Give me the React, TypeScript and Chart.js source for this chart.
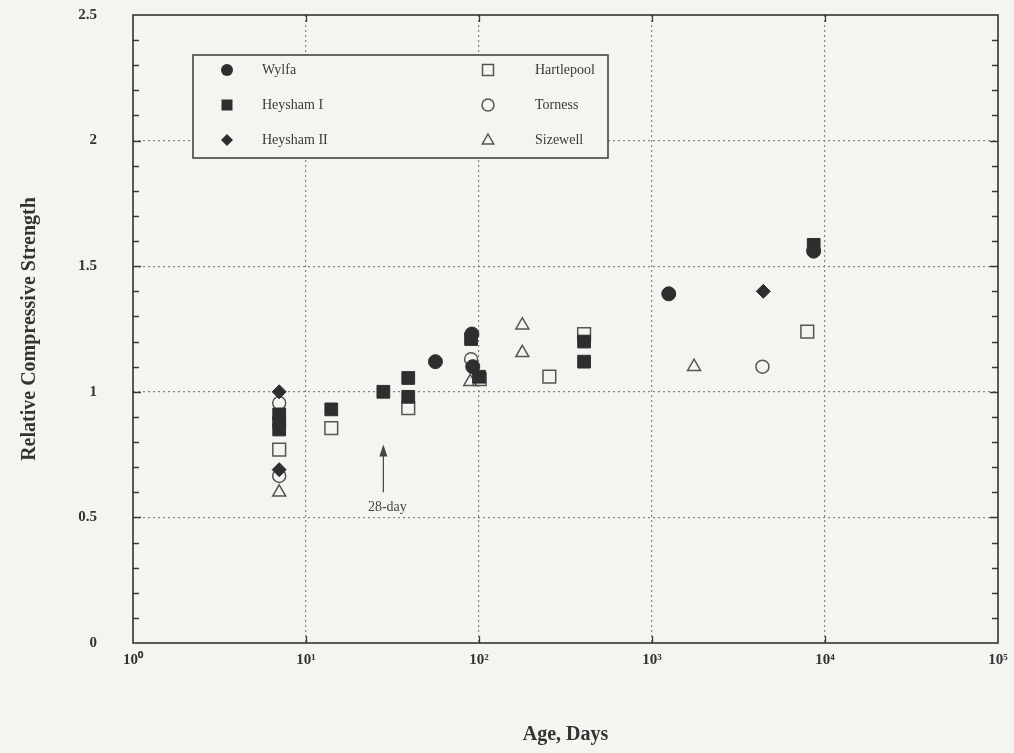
import React, { useEffect, useRef } from 'react';
import { Chart, registerables } from 'chart.js';

Chart.register(...registerables);

// ---- data (age in days, relative compressive strength) ----
const wylfaX = [56, 91, 92, 1250, 8600];
const wylfaY = [1.12, 1.23, 1.1, 1.39, 1.56];

const heysham1X = [7, 7, 7, 14, 28, 39, 39, 90, 100, 405, 405, 8600];
const heysham1Y = [0.91, 0.88, 0.85, 0.93, 1.0, 1.055, 0.98, 1.21, 1.06, 1.2, 1.12, 1.585];

const heysham2X = [7, 7, 4400];
const heysham2Y = [1.0, 0.69, 1.4];

const hartlepoolX = [7, 14, 39, 101, 255, 405, 7900];
const hartlepoolY = [0.77, 0.855, 0.935, 1.05, 1.06, 1.23, 1.24];

const tornessX = [7, 7, 90, 4350];
const tornessY = [0.955, 0.665, 1.13, 1.1];

const sizewellX = [7, 89, 178, 178, 1750];
const sizewellY = [0.6, 1.04, 1.265, 1.155, 1.1];

const seriesNames = ['Wylfa', 'Heysham I', 'Heysham II', 'Hartlepool', 'Torness', 'Sizewell'];
const xTickLabels = ['10\u2070', '10\u00b9', '10\u00b2', '10\u00b3', '10\u2074', '10\u2075'];

const annotationAge = 28;
const annotationArrowTop = 0.79;
const annotationArrowBottom = 0.6;
const annotationTextY = 0.54;
const annotationText = '28-day';

const BG = '#f4f4f1';
const DARK = '#2e2e2e';
const OPEN = '#555555';
const FONT = '"Liberation Serif", "Times New Roman", serif';

const pts = (xs: number[], ys: number[]) => xs.map((x, i) => ({ x, y: ys[i] }));

type Sym = { style: string; filled: boolean };
const symbols: Sym[] = [
  { style: 'circle', filled: true },
  { style: 'rect', filled: true },
  { style: 'diamond', filled: true },
  { style: 'rect', filled: false },
  { style: 'circle', filled: false },
  { style: 'triangle', filled: false },
];

function drawSymbol(ctx: CanvasRenderingContext2D, s: Sym, x: number, y: number, r: number) {
  ctx.save();
  ctx.beginPath();
  if (s.style === 'circle') {
    ctx.arc(x, y, r, 0, Math.PI * 2);
  } else if (s.style === 'rect') {
    ctx.rect(x - r, y - r, 2 * r, 2 * r);
  } else if (s.style === 'diamond') {
    ctx.moveTo(x, y - r);
    ctx.lineTo(x + r, y);
    ctx.lineTo(x, y + r);
    ctx.lineTo(x - r, y);
    ctx.closePath();
  } else if (s.style === 'triangle') {
    ctx.moveTo(x, y - r);
    ctx.lineTo(x + r * 0.95, y + r * 0.65);
    ctx.lineTo(x - r * 0.95, y + r * 0.65);
    ctx.closePath();
  }
  if (s.filled) {
    ctx.fillStyle = DARK;
    ctx.fill();
  } else {
    ctx.strokeStyle = OPEN;
    ctx.lineWidth = 1.5;
    ctx.stroke();
  }
  ctx.restore();
}

const decorPlugin = {
  id: 'decor',
  beforeDraw(chart: any) {
    const ctx = chart.ctx as CanvasRenderingContext2D;
    ctx.save();
    ctx.fillStyle = BG;
    ctx.fillRect(0, 0, chart.width, chart.height);
    ctx.restore();
  },
  afterDraw(chart: any) {
    const ctx = chart.ctx as CanvasRenderingContext2D;
    const { left, right, top, bottom } = chart.chartArea;
    const xs = chart.scales.x;
    const ys = chart.scales.y;
    ctx.save();
    // minor / major ticks on y (left and right)
    ctx.strokeStyle = '#3a3a3a';
    ctx.lineWidth = 1.3;
    for (let i = 1; i < 25; i++) {
      const v = i / 10;
      const py = Math.round(ys.getPixelForValue(v)) + 0.5;
      const len = i % 5 === 0 ? 8 : 6;
      ctx.beginPath();
      ctx.moveTo(left, py);
      ctx.lineTo(left + len, py);
      ctx.moveTo(right, py);
      ctx.lineTo(right - len, py);
      ctx.stroke();
    }
    // decade ticks on x (bottom and top)
    for (let d = 1; d < 5; d++) {
      const px = Math.round(xs.getPixelForValue(Math.pow(10, d))) + 0.5;
      ctx.beginPath();
      ctx.moveTo(px, bottom);
      ctx.lineTo(px, bottom - 7);
      ctx.moveTo(px, top);
      ctx.lineTo(px, top + 7);
      ctx.stroke();
    }
    // frame
    ctx.lineWidth = 1.6;
    ctx.strokeStyle = '#333';
    ctx.strokeRect(left, top, right - left, bottom - top);

    // 28-day annotation
    const ax = xs.getPixelForValue(annotationAge);
    const ayTop = ys.getPixelForValue(annotationArrowTop);
    const ayBot = ys.getPixelForValue(annotationArrowBottom);
    ctx.strokeStyle = '#444';
    ctx.fillStyle = '#444';
    ctx.lineWidth = 1.2;
    ctx.beginPath();
    ctx.moveTo(ax, ayBot);
    ctx.lineTo(ax, ayTop + 4);
    ctx.stroke();
    ctx.beginPath();
    ctx.moveTo(ax, ayTop);
    ctx.lineTo(ax - 4, ayTop + 12);
    ctx.lineTo(ax + 4, ayTop + 12);
    ctx.closePath();
    ctx.fill();
    ctx.font = `14px ${FONT}`;
    ctx.textAlign = 'center';
    ctx.textBaseline = 'middle';
    ctx.fillText(annotationText, ax + 4, ys.getPixelForValue(annotationTextY));

    // legend box
    const lx = 193, ly = 55, lw = 415, lh = 103;
    ctx.fillStyle = BG;
    ctx.fillRect(lx, ly, lw, lh);
    ctx.lineWidth = 1.6;
    ctx.strokeStyle = '#444';
    ctx.strokeRect(lx, ly, lw, lh);
    const rows = [70, 105, 140];
    const cols = [
      { sx: 227, tx: 262 },
      { sx: 488, tx: 535 },
    ];
    ctx.font = `14px ${FONT}`;
    ctx.textAlign = 'left';
    ctx.textBaseline = 'middle';
    seriesNames.forEach((name, i) => {
      const c = cols[Math.floor(i / 3)];
      const ry = rows[i % 3];
      const s = symbols[i];
      const r = s.style === 'rect' ? 5.5 : 6;
      drawSymbol(ctx, s, c.sx, ry, r);
      ctx.fillStyle = '#3a3a3a';
      ctx.fillText(name, c.tx, ry);
    });
    ctx.restore();
  },
};

const zeroPad = (s: any) => {
  s.paddingTop = 0;
  s.paddingBottom = 0;
  s.paddingLeft = 0;
  s.paddingRight = 0;
};

export default function App() {
  const ref = useRef<HTMLCanvasElement | null>(null);
  useEffect(() => {
    if (!ref.current) return;
    const filled = { backgroundColor: DARK, borderColor: DARK, borderWidth: 1 };
    const open = { backgroundColor: 'rgba(0,0,0,0)', borderColor: OPEN, borderWidth: 1.5 };
    const chart = new Chart(ref.current, {
      type: 'scatter',
      data: {
        datasets: [
          { label: seriesNames[0], data: pts(wylfaX, wylfaY), pointStyle: 'circle', pointRadius: 7, ...filled },
          { label: seriesNames[1], data: pts(heysham1X, heysham1Y), pointStyle: 'rect', pointRadius: 9, ...filled },
          { label: seriesNames[2], data: pts(heysham2X, heysham2Y), pointStyle: 'rectRot', pointRadius: 7, ...filled },
          { label: seriesNames[3], data: pts(hartlepoolX, hartlepoolY), pointStyle: 'rect', pointRadius: 9, ...open },
          { label: seriesNames[4], data: pts(tornessX, tornessY), pointStyle: 'circle', pointRadius: 6.5, ...open },
          { label: seriesNames[5], data: pts(sizewellX, sizewellY), pointStyle: 'triangle', pointRadius: 7.5, ...open },
        ],
      },
      options: {
        animation: false,
        responsive: false,
        layout: { padding: { top: 15, right: 16, left: 0, bottom: 0 } },
        plugins: { legend: { display: false }, tooltip: { enabled: false } },
        scales: {
          x: {
            type: 'logarithmic',
            min: 1,
            max: 100000,
            afterFit: (s: any) => { s.height = 110; zeroPad(s); },
            border: { display: false, dash: [2, 3] },
            grid: {
              drawTicks: false,
              lineWidth: 1.2,
              color: (c: any) => {
                const v = c.tick ? c.tick.value : 0;
                const l = Math.log10(v);
                const dec = Math.abs(l - Math.round(l)) < 1e-6;
                return dec && v > 1 && v < 100000 ? '#858585' : 'rgba(0,0,0,0)';
              },
            },
            ticks: {
              autoSkip: false,
              maxRotation: 0,
              padding: 8,
              color: '#333',
              font: { family: FONT, size: 15, weight: 'bold' },
              callback: (value: any) => {
                const l = Math.log10(Number(value));
                if (Math.abs(l - Math.round(l)) < 1e-6) return xTickLabels[Math.round(l)];
                return '';
              },
            },
            title: {
              display: true,
              text: 'Age, Days',
              color: '#333',
              font: { family: FONT, size: 20, weight: 'bold' },
              padding: { top: 0, bottom: 6 },
            },
          },
          y: {
            min: 0,
            max: 2.5,
            afterFit: (s: any) => { s.width = 133; zeroPad(s); },
            border: { display: false, dash: [2, 3] },
            grid: {
              drawTicks: false,
              lineWidth: 1.2,
              color: (c: any) => {
                const v = c.tick ? c.tick.value : 0;
                return v > 0.01 && v < 2.49 ? '#858585' : 'rgba(0,0,0,0)';
              },
            },
            ticks: {
              stepSize: 0.5,
              padding: 36,
              color: '#333',
              font: { family: FONT, size: 15, weight: 'bold' },
              callback: (value: any) => String(Number(value)),
            },
            title: {
              display: true,
              text: 'Relative Compressive Strength',
              color: '#333',
              font: { family: FONT, size: 20, weight: 'bold' },
              padding: { top: 18, bottom: 0 },
            },
          },
        },
      },
      plugins: [decorPlugin],
    } as any);
    return () => chart.destroy();
  }, []);
  return (
    <div style={{ position: 'fixed', left: 0, top: 0, width: 1014, height: 753, background: BG }}>
      <canvas ref={ref} width={1014} height={753} style={{ width: 1014, height: 753, display: 'block' }} />
    </div>
  );
}
